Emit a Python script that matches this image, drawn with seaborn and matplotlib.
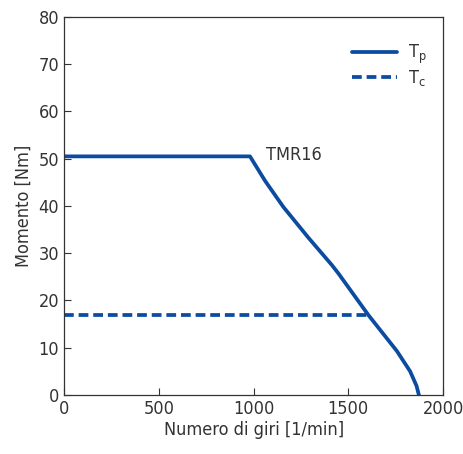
import matplotlib
matplotlib.use("Agg")
import matplotlib.pyplot as plt
import seaborn as sns
import pandas as pd

# Peak torque curve Tp (speed in 1/min, torque in Nm)
tp_speed = [0, 981, 1061, 1157, 1289, 1413, 1448, 1606, 1677, 1756, 1826, 1860, 1872]
tp_torque = [50.5, 50.5, 45.3, 39.8, 33.3, 27.5, 25.7, 16.9, 13.3, 9.3, 5.0, 1.9, 0.0]

# Continuous torque Tc
tc_speed = [0, 1610]
tc_torque = [16.9, 16.9]

motor_label = "TMR16"

sns.set_theme(style="ticks")
plt.rcParams["font.family"] = ["DejaVu Sans"]
plt.rcParams["font.stretch"] = "condensed"
plt.rcParams["mathtext.default"] = "regular"

color = "#0b4ba0"
text_color = "#333333"

fig = plt.figure(figsize=(4.64, 4.54), dpi=100)
ax = fig.add_axes([0.138, 0.130, 0.817, 0.8326])

df_tp = pd.DataFrame({"speed": tp_speed, "torque": tp_torque})
df_tc = pd.DataFrame({"speed": tc_speed, "torque": tc_torque})

sns.lineplot(data=df_tp, x="speed", y="torque", ax=ax, color=color,
             linewidth=2.7, sort=False, label="T$_{p}$")
sns.lineplot(data=df_tc, x="speed", y="torque", ax=ax, color=color,
             linewidth=2.7, linestyle=(0, (2.6, 1.3)), sort=False, label="T$_{c}$")
ax.lines[0].set_solid_joinstyle("round")

ax.text(1066, 50.7, motor_label, fontsize=13, color=text_color, va="center", ha="left")

ax.set_xlim(0, 2000)
ax.set_ylim(0, 80)
ax.set_xticks([0, 500, 1000, 1500, 2000])
ax.set_yticks(range(0, 81, 10))
ax.set_xlabel("Numero di giri [1/min]", fontsize=13, color=text_color, labelpad=2)
ax.set_ylabel("Momento [Nm]", fontsize=13, color=text_color, labelpad=4)
ax.tick_params(axis="both", labelsize=13, colors=text_color, direction="in", length=5, width=0.8)
for side in ax.spines.values():
    side.set_color(text_color)
    side.set_linewidth(0.9)

leg = ax.legend(loc="upper right", frameon=False, fontsize=13, handlelength=2.5,
                handletextpad=0.6, labelspacing=0.12, bbox_to_anchor=(1.0, 0.975))
for t in leg.get_texts():
    t.set_color(text_color)

fig.savefig("out.png", dpi=100)
